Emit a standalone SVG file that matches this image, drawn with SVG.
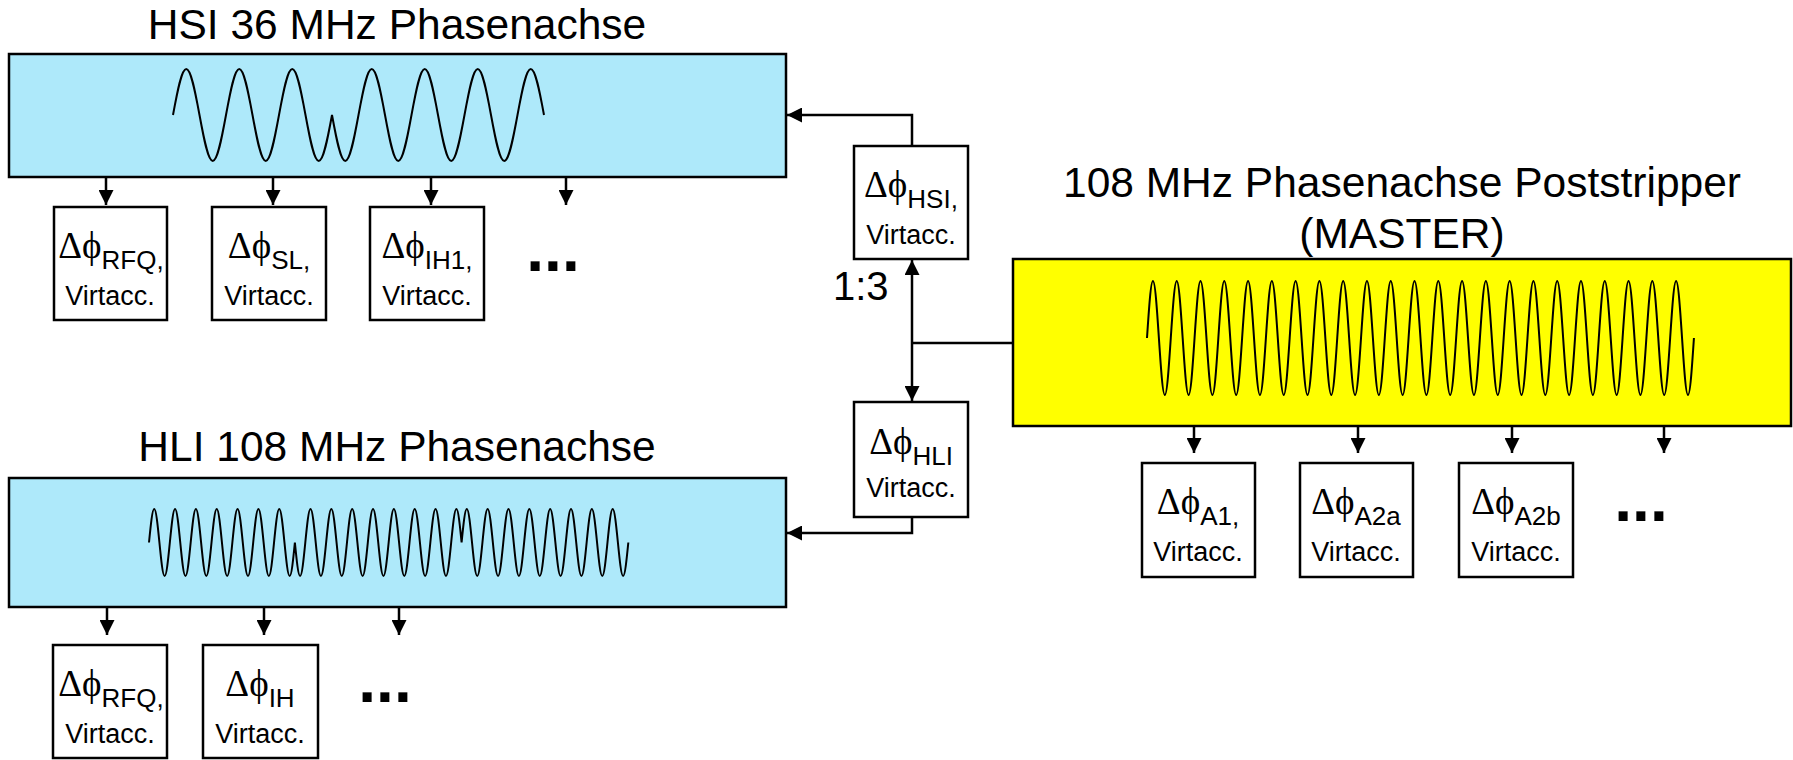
<svg xmlns="http://www.w3.org/2000/svg" width="1793" height="760" viewBox="0 0 1793 760">
<defs>
<style>
.bigbox{stroke:#000;stroke-width:2.5}
.blue{fill:#AEE9FA}
.yellow{fill:#FFFF00}
.box{fill:#fff;stroke:#000;stroke-width:2.5}
.title{font-family:"Liberation Sans",Arial,sans-serif;font-size:42.5px;fill:#000}
.sym{font-family:"Liberation Serif","DejaVu Serif",serif;font-size:37px}
.sub{font-family:"Liberation Sans",Arial,sans-serif;font-size:26px}
.va{font-family:"Liberation Sans",Arial,sans-serif;font-size:27px}
.lbl{font-family:"Liberation Sans",Arial,sans-serif;font-size:40px}
.wave{fill:none;stroke:#000;stroke-width:2}
.conn{fill:none;stroke:#000;stroke-width:2.5}
.dots{font-family:"Liberation Sans",Arial,sans-serif;font-weight:bold;font-size:64px}
</style>
<marker id="ah" markerUnits="userSpaceOnUse" markerWidth="15" markerHeight="15" viewBox="0 0 15 15" refX="15" refY="7.5" orient="auto"><path d="M0,0 L15,7.5 L0,15 z" fill="#000"/></marker>
</defs>
<rect width="1793" height="760" fill="#fff"/>

<g id="hsi-axis">
<text class="title" x="397" y="39" text-anchor="middle">HSI 36 MHz Phasenachse</text>
<rect class="bigbox blue" x="9" y="54" width="777" height="123"/>
<path class="wave" d="M173,115
c4.32,-23.57 8.45,-46 13.25,-46 c4.8,0 8.93,22.43 13.25,46 c4.32,23.57 8.45,46 13.25,46 c4.8,0 8.93,-22.43 13.25,-46
c4.32,-23.57 8.45,-46 13.25,-46 c4.8,0 8.93,22.43 13.25,46 c4.32,23.57 8.45,46 13.25,46 c4.8,0 8.93,-22.43 13.25,-46
c4.32,-23.57 8.45,-46 13.25,-46 c4.8,0 8.93,22.43 13.25,46 c4.32,23.57 8.45,46 13.25,46 c4.8,0 8.93,-22.43 13.25,-46
c4.32,23.57 8.45,46 13.25,46 c4.8,0 8.93,-22.43 13.25,-46 c4.32,-23.57 8.45,-46 13.25,-46 c4.8,0 8.93,22.43 13.25,46
c4.32,23.57 8.45,46 13.25,46 c4.8,0 8.93,-22.43 13.25,-46 c4.32,-23.57 8.45,-46 13.25,-46 c4.8,0 8.93,22.43 13.25,46
c4.32,23.57 8.45,46 13.25,46 c4.8,0 8.93,-22.43 13.25,-46 c4.32,-23.57 8.45,-46 13.25,-46 c4.8,0 8.93,22.43 13.25,46
c4.32,23.57 8.45,46 13.25,46 c4.8,0 8.93,-22.43 13.25,-46 c4.32,-23.57 8.45,-46 13.25,-46 c4.8,0 8.93,22.43 13.25,46"/>
</g>

<g id="hli-axis">
<text class="title" x="397" y="461" text-anchor="middle">HLI 108 MHz Phasenachse</text>
<rect class="bigbox blue" x="9" y="478" width="777" height="129"/>
<path class="wave" d="M149,542.5
c1.7,-17.16 3.32,-33.5 5.21,-33.5 c1.89,0 3.51,16.34 5.21,33.5 c1.7,17.16 3.32,33.5 5.21,33.5 c1.89,0 3.51,-16.34 5.21,-33.5
c1.7,-17.16 3.32,-33.5 5.21,-33.5 c1.89,0 3.51,16.34 5.21,33.5 c1.7,17.16 3.32,33.5 5.21,33.5 c1.89,0 3.51,-16.34 5.21,-33.5
c1.7,-17.16 3.32,-33.5 5.21,-33.5 c1.89,0 3.51,16.34 5.21,33.5 c1.7,17.16 3.32,33.5 5.21,33.5 c1.89,0 3.51,-16.34 5.21,-33.5
c1.7,-17.16 3.32,-33.5 5.21,-33.5 c1.89,0 3.51,16.34 5.21,33.5 c1.7,17.16 3.32,33.5 5.21,33.5 c1.89,0 3.51,-16.34 5.21,-33.5
c1.7,-17.16 3.32,-33.5 5.21,-33.5 c1.89,0 3.51,16.34 5.21,33.5 c1.7,17.16 3.32,33.5 5.21,33.5 c1.89,0 3.51,-16.34 5.21,-33.5
c1.7,-17.16 3.32,-33.5 5.21,-33.5 c1.89,0 3.51,16.34 5.21,33.5 c1.7,17.16 3.32,33.5 5.21,33.5 c1.89,0 3.51,-16.34 5.21,-33.5
c1.7,-17.16 3.32,-33.5 5.21,-33.5 c1.89,0 3.51,16.34 5.21,33.5 c1.7,17.16 3.32,33.5 5.21,33.5 c1.89,0 3.51,-16.34 5.21,-33.5
c1.7,17.16 3.32,33.5 5.21,33.5 c1.89,0 3.51,-16.34 5.21,-33.5 c1.7,-17.16 3.32,-33.5 5.21,-33.5 c1.89,0 3.51,16.34 5.21,33.5
c1.7,17.16 3.32,33.5 5.21,33.5 c1.89,0 3.51,-16.34 5.21,-33.5 c1.7,-17.16 3.32,-33.5 5.21,-33.5 c1.89,0 3.51,16.34 5.21,33.5
c1.7,17.16 3.32,33.5 5.21,33.5 c1.89,0 3.51,-16.34 5.21,-33.5 c1.7,-17.16 3.32,-33.5 5.21,-33.5 c1.89,0 3.51,16.34 5.21,33.5
c1.7,17.16 3.32,33.5 5.21,33.5 c1.89,0 3.51,-16.34 5.21,-33.5 c1.7,-17.16 3.32,-33.5 5.21,-33.5 c1.89,0 3.51,16.34 5.21,33.5
c1.7,17.16 3.32,33.5 5.21,33.5 c1.89,0 3.51,-16.34 5.21,-33.5 c1.7,-17.16 3.32,-33.5 5.21,-33.5 c1.89,0 3.51,16.34 5.21,33.5
c1.7,17.16 3.32,33.5 5.21,33.5 c1.89,0 3.51,-16.34 5.21,-33.5 c1.7,-17.16 3.32,-33.5 5.21,-33.5 c1.89,0 3.51,16.34 5.21,33.5
c1.7,17.16 3.32,33.5 5.21,33.5 c1.89,0 3.51,-16.34 5.21,-33.5 c1.7,-17.16 3.32,-33.5 5.21,-33.5 c1.89,0 3.51,16.34 5.21,33.5
c1.7,17.16 3.32,33.5 5.21,33.5 c1.89,0 3.51,-16.34 5.21,-33.5 c1.7,-17.16 3.32,-33.5 5.21,-33.5 c1.89,0 3.51,16.34 5.21,33.5
c1.7,-17.16 3.32,-33.5 5.21,-33.5 c1.89,0 3.51,16.34 5.21,33.5 c1.7,17.16 3.32,33.5 5.21,33.5 c1.89,0 3.51,-16.34 5.21,-33.5
c1.7,-17.16 3.32,-33.5 5.21,-33.5 c1.89,0 3.51,16.34 5.21,33.5 c1.7,17.16 3.32,33.5 5.21,33.5 c1.89,0 3.51,-16.34 5.21,-33.5
c1.7,-17.16 3.32,-33.5 5.21,-33.5 c1.89,0 3.51,16.34 5.21,33.5 c1.7,17.16 3.32,33.5 5.21,33.5 c1.89,0 3.51,-16.34 5.21,-33.5
c1.7,-17.16 3.32,-33.5 5.21,-33.5 c1.89,0 3.51,16.34 5.21,33.5 c1.7,17.16 3.32,33.5 5.21,33.5 c1.89,0 3.51,-16.34 5.21,-33.5
c1.7,-17.16 3.32,-33.5 5.21,-33.5 c1.89,0 3.51,16.34 5.21,33.5 c1.7,17.16 3.32,33.5 5.21,33.5 c1.89,0 3.51,-16.34 5.21,-33.5
c1.7,-17.16 3.32,-33.5 5.21,-33.5 c1.89,0 3.51,16.34 5.21,33.5 c1.7,17.16 3.32,33.5 5.21,33.5 c1.89,0 3.51,-16.34 5.21,-33.5
c1.7,-17.16 3.32,-33.5 5.21,-33.5 c1.89,0 3.51,16.34 5.21,33.5 c1.7,17.16 3.32,33.5 5.21,33.5 c1.89,0 3.51,-16.34 5.21,-33.5
c1.7,-17.16 3.32,-33.5 5.21,-33.5 c1.89,0 3.51,16.34 5.21,33.5 c1.7,17.16 3.32,33.5 5.21,33.5 c1.89,0 3.51,-16.34 5.21,-33.5"/>
</g>

<g id="master-axis">
<text class="title" x="1402" y="197" text-anchor="middle">108 MHz Phasenachse Poststripper</text>
<text class="title" x="1402" y="248" text-anchor="middle">(MASTER)</text>
<rect class="bigbox yellow" x="1013" y="259" width="778" height="167"/>
<path class="wave" d="M1147,338
c1.94,-29.2 3.79,-57 5.945,-57 c2.15,0 4.01,27.8 5.945,57 c1.94,29.2 3.79,57 5.945,57 c2.15,0 4.01,-27.8 5.945,-57
c1.94,-29.2 3.79,-57 5.945,-57 c2.15,0 4.01,27.8 5.945,57 c1.94,29.2 3.79,57 5.945,57 c2.15,0 4.01,-27.8 5.945,-57
c1.94,-29.2 3.79,-57 5.945,-57 c2.15,0 4.01,27.8 5.945,57 c1.94,29.2 3.79,57 5.945,57 c2.15,0 4.01,-27.8 5.945,-57
c1.94,-29.2 3.79,-57 5.945,-57 c2.15,0 4.01,27.8 5.945,57 c1.94,29.2 3.79,57 5.945,57 c2.15,0 4.01,-27.8 5.945,-57
c1.94,-29.2 3.79,-57 5.945,-57 c2.15,0 4.01,27.8 5.945,57 c1.94,29.2 3.79,57 5.945,57 c2.15,0 4.01,-27.8 5.945,-57
c1.94,-29.2 3.79,-57 5.945,-57 c2.15,0 4.01,27.8 5.945,57 c1.94,29.2 3.79,57 5.945,57 c2.15,0 4.01,-27.8 5.945,-57
c1.94,-29.2 3.79,-57 5.945,-57 c2.15,0 4.01,27.8 5.945,57 c1.94,29.2 3.79,57 5.945,57 c2.15,0 4.01,-27.8 5.945,-57
c1.94,-29.2 3.79,-57 5.945,-57 c2.15,0 4.01,27.8 5.945,57 c1.94,29.2 3.79,57 5.945,57 c2.15,0 4.01,-27.8 5.945,-57
c1.94,-29.2 3.79,-57 5.945,-57 c2.15,0 4.01,27.8 5.945,57 c1.94,29.2 3.79,57 5.945,57 c2.15,0 4.01,-27.8 5.945,-57
c1.94,-29.2 3.79,-57 5.945,-57 c2.15,0 4.01,27.8 5.945,57 c1.94,29.2 3.79,57 5.945,57 c2.15,0 4.01,-27.8 5.945,-57
c1.94,-29.2 3.79,-57 5.945,-57 c2.15,0 4.01,27.8 5.945,57 c1.94,29.2 3.79,57 5.945,57 c2.15,0 4.01,-27.8 5.945,-57
c1.94,-29.2 3.79,-57 5.945,-57 c2.15,0 4.01,27.8 5.945,57 c1.94,29.2 3.79,57 5.945,57 c2.15,0 4.01,-27.8 5.945,-57
c1.94,-29.2 3.79,-57 5.945,-57 c2.15,0 4.01,27.8 5.945,57 c1.94,29.2 3.79,57 5.945,57 c2.15,0 4.01,-27.8 5.945,-57
c1.94,-29.2 3.79,-57 5.945,-57 c2.15,0 4.01,27.8 5.945,57 c1.94,29.2 3.79,57 5.945,57 c2.15,0 4.01,-27.8 5.945,-57
c1.94,-29.2 3.79,-57 5.945,-57 c2.15,0 4.01,27.8 5.945,57 c1.94,29.2 3.79,57 5.945,57 c2.15,0 4.01,-27.8 5.945,-57
c1.94,-29.2 3.79,-57 5.945,-57 c2.15,0 4.01,27.8 5.945,57 c1.94,29.2 3.79,57 5.945,57 c2.15,0 4.01,-27.8 5.945,-57
c1.94,-29.2 3.79,-57 5.945,-57 c2.15,0 4.01,27.8 5.945,57 c1.94,29.2 3.79,57 5.945,57 c2.15,0 4.01,-27.8 5.945,-57
c1.94,-29.2 3.79,-57 5.945,-57 c2.15,0 4.01,27.8 5.945,57 c1.94,29.2 3.79,57 5.945,57 c2.15,0 4.01,-27.8 5.945,-57
c1.94,-29.2 3.79,-57 5.945,-57 c2.15,0 4.01,27.8 5.945,57 c1.94,29.2 3.79,57 5.945,57 c2.15,0 4.01,-27.8 5.945,-57
c1.94,-29.2 3.79,-57 5.945,-57 c2.15,0 4.01,27.8 5.945,57 c1.94,29.2 3.79,57 5.945,57 c2.15,0 4.01,-27.8 5.945,-57
c1.94,-29.2 3.79,-57 5.945,-57 c2.15,0 4.01,27.8 5.945,57 c1.94,29.2 3.79,57 5.945,57 c2.15,0 4.01,-27.8 5.945,-57
c1.94,-29.2 3.79,-57 5.945,-57 c2.15,0 4.01,27.8 5.945,57 c1.94,29.2 3.79,57 5.945,57 c2.15,0 4.01,-27.8 5.945,-57
c1.94,-29.2 3.79,-57 5.945,-57 c2.15,0 4.01,27.8 5.945,57 c1.94,29.2 3.79,57 5.945,57 c2.15,0 4.01,-27.8 5.945,-57"/>
</g>

<g id="connectors">
<path class="conn" d="M106,177 V205" marker-end="url(#ah)"/>
<path class="conn" d="M273,177 V205" marker-end="url(#ah)"/>
<path class="conn" d="M431,177 V205" marker-end="url(#ah)"/>
<path class="conn" d="M566,177 V205" marker-end="url(#ah)"/>
<path class="conn" d="M107,607 V635" marker-end="url(#ah)"/>
<path class="conn" d="M264,607 V635" marker-end="url(#ah)"/>
<path class="conn" d="M399,607 V635" marker-end="url(#ah)"/>
<path class="conn" d="M1194,426 V453" marker-end="url(#ah)"/>
<path class="conn" d="M1358,426 V453" marker-end="url(#ah)"/>
<path class="conn" d="M1512,426 V453" marker-end="url(#ah)"/>
<path class="conn" d="M1664,426 V453" marker-end="url(#ah)"/>
<path class="conn" d="M912,146 V115 H787" marker-end="url(#ah)"/>
<path class="conn" d="M912,343 H1013"/>
<path class="conn" d="M912,343 V260" marker-end="url(#ah)"/>
<path class="conn" d="M912,343 V401" marker-end="url(#ah)"/>
<path class="conn" d="M912,517 V533 H787" marker-end="url(#ah)"/>
</g>

<g id="ratio-label">
<text class="lbl" x="833" y="300">1:3</text>
</g>

<g id="hsi-rfq">
<rect class="box" x="54" y="207" width="113" height="113"/>
<text x="111" y="258" text-anchor="middle"><tspan class="sym">Δϕ</tspan><tspan class="sub" dy="11">RFQ,</tspan></text>
<text class="va" x="110" y="305" text-anchor="middle">Virtacc.</text>
</g>
<g id="hsi-sl">
<rect class="box" x="212" y="207" width="114" height="113"/>
<text x="269" y="258" text-anchor="middle"><tspan class="sym">Δϕ</tspan><tspan class="sub" dy="11">SL,</tspan></text>
<text class="va" x="269" y="305" text-anchor="middle">Virtacc.</text>
</g>
<g id="hsi-ih1">
<rect class="box" x="370" y="207" width="114" height="113"/>
<text x="427" y="258" text-anchor="middle"><tspan class="sym">Δϕ</tspan><tspan class="sub" dy="11">IH1,</tspan></text>
<text class="va" x="427" y="305" text-anchor="middle">Virtacc.</text>
</g>
<g id="hsi-more">
<text class="dots" x="553" y="271" text-anchor="middle">...</text>
</g>

<g id="delta-hsi">
<rect class="box" x="854" y="146" width="114" height="113"/>
<text x="911" y="197" text-anchor="middle"><tspan class="sym">Δϕ</tspan><tspan class="sub" dy="11">HSI,</tspan></text>
<text class="va" x="911" y="244" text-anchor="middle">Virtacc.</text>
</g>
<g id="delta-hli">
<rect class="box" x="854" y="402" width="114" height="115"/>
<text x="911" y="454" text-anchor="middle"><tspan class="sym">Δϕ</tspan><tspan class="sub" dy="11">HLI</tspan></text>
<text class="va" x="911" y="497" text-anchor="middle">Virtacc.</text>
</g>

<g id="master-a1">
<rect class="box" x="1142" y="463" width="113" height="114"/>
<text x="1198" y="514" text-anchor="middle"><tspan class="sym">Δϕ</tspan><tspan class="sub" dy="11">A1,</tspan></text>
<text class="va" x="1198" y="561" text-anchor="middle">Virtacc.</text>
</g>
<g id="master-a2a">
<rect class="box" x="1300" y="463" width="113" height="114"/>
<text x="1356" y="514" text-anchor="middle"><tspan class="sym">Δϕ</tspan><tspan class="sub" dy="11">A2a</tspan></text>
<text class="va" x="1356" y="561" text-anchor="middle">Virtacc.</text>
</g>
<g id="master-a2b">
<rect class="box" x="1459" y="463" width="114" height="114"/>
<text x="1516" y="514" text-anchor="middle"><tspan class="sym">Δϕ</tspan><tspan class="sub" dy="11">A2b</tspan></text>
<text class="va" x="1516" y="561" text-anchor="middle">Virtacc.</text>
</g>
<g id="master-more">
<text class="dots" x="1641" y="521" text-anchor="middle">...</text>
</g>

<g id="hli-rfq">
<rect class="box" x="53" y="645" width="114" height="113"/>
<text x="111" y="696" text-anchor="middle"><tspan class="sym">Δϕ</tspan><tspan class="sub" dy="11">RFQ,</tspan></text>
<text class="va" x="110" y="743" text-anchor="middle">Virtacc.</text>
</g>
<g id="hli-ih">
<rect class="box" x="203" y="645" width="115" height="113"/>
<text x="260" y="696" text-anchor="middle"><tspan class="sym">Δϕ</tspan><tspan class="sub" dy="11">IH</tspan></text>
<text class="va" x="260" y="743" text-anchor="middle">Virtacc.</text>
</g>
<g id="hli-more">
<text class="dots" x="385" y="702" text-anchor="middle">...</text>
</g>
</svg>
